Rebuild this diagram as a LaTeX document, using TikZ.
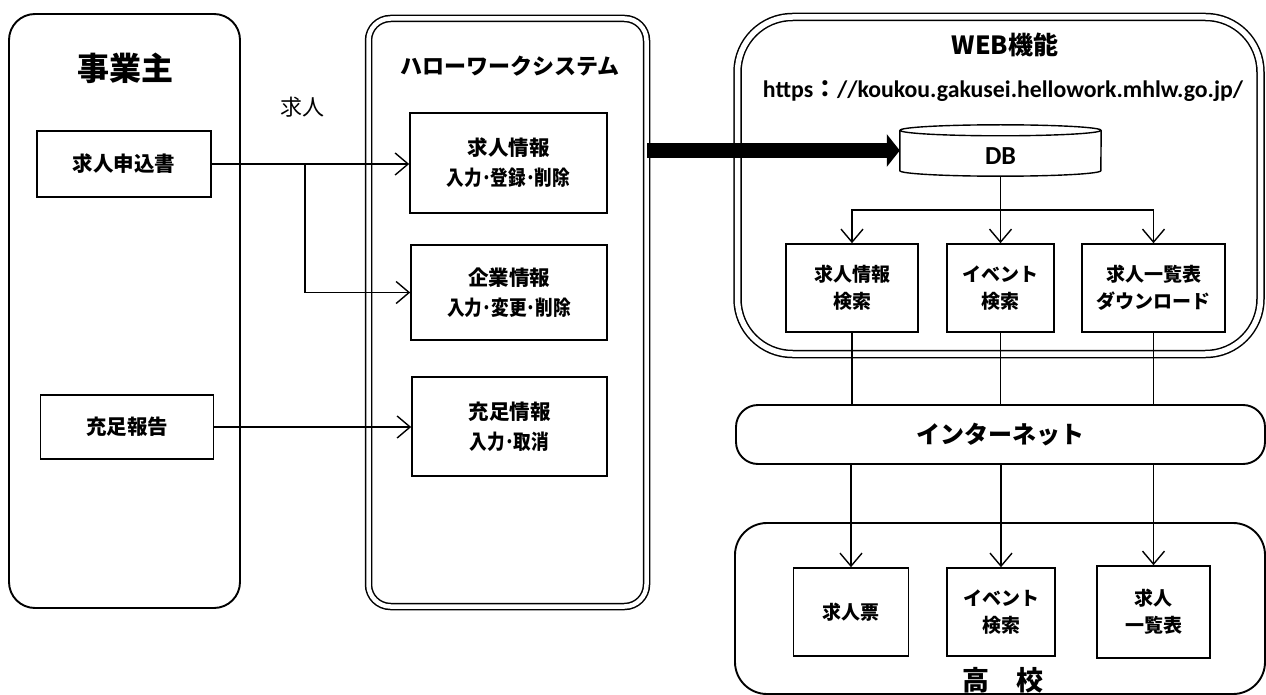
\documentclass[tikz,border=0pt]{standalone}
\usepackage{fontspec}
\usepackage{graphicx}
\setmainfont{Noto Sans CJK JP}
\newfontfamily\lat{Carlito}
\usetikzlibrary{arrows.meta,calc}
\begin{document}
\begin{tikzpicture}[x=1pt,y=-1pt,
  box/.style={draw, line width=1.6pt, inner sep=0pt, align=center,
    font=\bfseries\fontsize{20.5}{30}\selectfont},
  sbox/.style={box, font=\bfseries\fontsize{19}{27}\selectfont},
  ln/.style={line width=1.4pt},
  arr/.style={line width=1.4pt, -{Straight Barb[length=13pt,width=22pt]}},
  frame/.style={draw, line width=1.9pt, inner sep=0pt},
  dframe/.style={draw, double, double distance=4.5pt, line width=1.5pt, inner sep=0pt},
  title/.style={font=\bfseries\fontsize{22}{26}\selectfont, inner sep=0pt}]
\useasboundingbox (0,0) rectangle (1266,695);

% ---- 事業主
\node[frame, rounded corners=26pt, minimum width=231pt, minimum height=594pt] (emp) at (124.5,311) {};
\node[title, font=\bfseries\fontsize{32}{36}\selectfont] (empt) at (125,68) {事業主};
\node[box, minimum width=174pt, minimum height=66pt] (a1) at (124,164) {求人申込書};
\node[box, minimum width=173pt, minimum height=64pt] (a2) at (127,427) {充足報告};
\node[font=\fontsize{22}{26}\selectfont, inner sep=0pt] (lbl) at (302,107) {求人};

% ---- ハローワークシステム
\node[dframe, rounded corners=22pt, minimum width=278pt, minimum height=588pt] (hw) at (507.5,312.5) {};
\node[title] (hwt) at (510,66) {ハローワークシステム};
\node[box, minimum width=197pt, minimum height=100pt] (h1) at (508.5,163) {求人情報\\\scalebox{0.86}[1]{入力･登録･削除}};
\node[box, minimum width=196pt, minimum height=95pt] (h2) at (509,292.5) {企業情報\\\scalebox{0.86}[1]{入力･変更･削除}};
\node[box, minimum width=195pt, minimum height=99pt] (h3) at (509.5,426.5) {充足情報\\\scalebox{0.86}[1]{入力･取消}};

% ---- WEB機能
\node[dframe, double distance=5.5pt, rounded corners=55pt, minimum width=523pt, minimum height=337pt] (web) at (999,185.5) {};
\node[title, font=\bfseries\fontsize{25}{29}\selectfont] (webt) at (1005,45) {WEB機能};
\node[inner sep=0pt, font=\lat\bfseries\fontsize{23.8}{28}\selectfont] (url) at (1003,91) {https{\normalfont\bfseries ：}//koukou.gakusei.hellowork.mhlw.go.jp/};
\node[inner sep=0pt, minimum width=201pt, minimum height=51pt] (db) at (1000.5,150.5) {};
\draw[ln] ($(db.north west)+(0,5.5)$) -- ($(db.south west)+(0,-5.5)$)
  arc[start angle=180, end angle=360, x radius=100.5pt, y radius=5.5pt]
  -- ($(db.north east)+(0,5.5)$);
\draw[ln] ($(db.north)+(0,5.5)$) ellipse[x radius=100.5pt, y radius=5.5pt];
\node[inner sep=0pt, font=\lat\bfseries\fontsize{26}{30}\selectfont] (dbt) at ($(db.center)+(0,6)$) {DB};

\node[sbox, minimum width=132pt, minimum height=88pt] (s1) at (852,288) {求人情報\\検索};
\node[sbox, minimum width=107pt, minimum height=88pt] (s2) at (1000.5,288) {イベント\\検索};
\node[sbox, minimum width=143pt, minimum height=88pt] (s3) at (1153.5,288) {求人一覧表\\ダウンロード};

% ---- インターネット
\node[frame, rounded corners=22pt, minimum width=529pt, minimum height=59pt,
  font=\bfseries\fontsize{24}{28}\selectfont] (inet) at (1000.5,434.5) {インターネット};

% ---- 高校
\node[frame, rounded corners=32pt, minimum width=530pt, minimum height=171pt] (sch) at (1000,608.5) {};
\node[title, font=\bfseries\fontsize{27}{31}\selectfont] (scht) at (1003,680) {高\hspace{1em}校};
\node[sbox, minimum width=115pt, minimum height=88pt] (k1) at (851,612) {求人票};
\node[sbox, minimum width=108pt, minimum height=88pt] (k2) at (1001,612) {イベント\\検索};
\node[sbox, minimum width=113pt, minimum height=92pt] (k3) at (1153.5,612) {求人\\一覧表};

% ---- connectors
\coordinate (br) at (305,164);
\draw[arr] (a1.east) -- (a1.east -| h1.west);
\draw[arr] (br) |- (h2.west);
\draw[arr] (a2.east) -- (a2.east -| h3.west);
\draw[line width=15pt, -{Triangle[length=13pt,width=32pt]}] (hw.east |- db.west) -- (db.west);

\coordinate (sp) at (1000.5,210);
\draw[ln] (db.south) -- (sp);
\draw[arr] (sp) -| (s1.north);
\draw[arr] (sp) -| (s3.north);
\draw[arr] (sp) -- (sp |- s2.north);

\draw[ln] (s1.south) -- (s1.south |- inet.north);
\draw[ln] (s2.south) -- (s2.south |- inet.north);
\draw[ln] (s3.south) -- (s3.south |- inet.north);
\draw[arr] (inet.south -| k1.north) -- (k1.north);
\draw[arr] (inet.south -| k2.north) -- (k2.north);
\draw[arr] (inet.south -| k3.north) -- (k3.north);
\end{tikzpicture}
\end{document}
